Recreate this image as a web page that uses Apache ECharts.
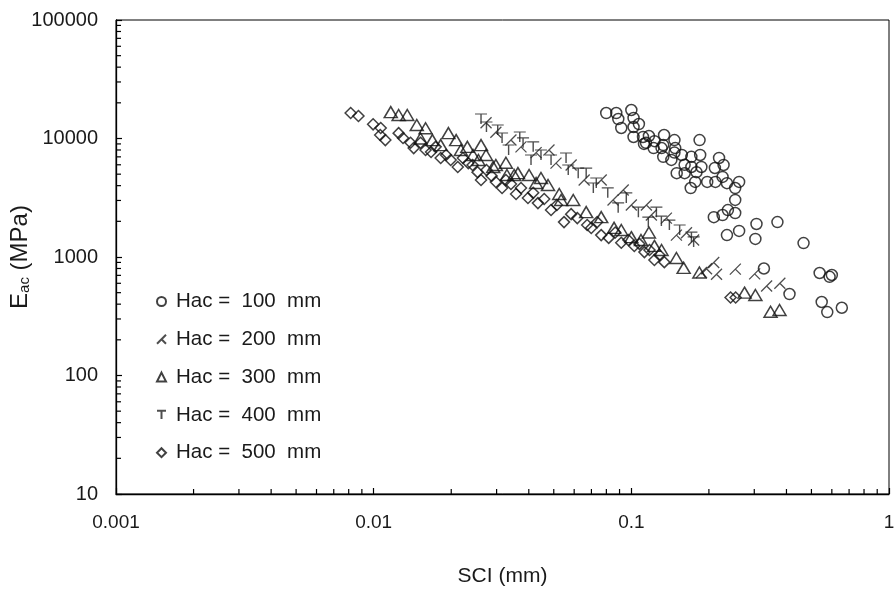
<!DOCTYPE html>
<html>
<head>
<meta charset="utf-8">
<script src="https://cdn.jsdelivr.net/npm/echarts@6/dist/echarts.min.js"></script>
<style>
html,body{margin:0;padding:0;background:#fff;}
#chart{width:894px;height:594px;}
</style>
</head>
<body>
<div id="chart"></div>
<script>
// ---- data (SCI in mm, Eac in MPa) ----
const seriesNames = ['Hac = 100 mm', 'Hac = 200 mm', 'Hac = 300 mm', 'Hac = 400 mm', 'Hac = 500 mm'];

const hac100 = [
  [0.0799,16400],[0.0874,16400],[0.100,17400],[0.089,14600],[0.102,14900],[0.107,13250],
  [0.0914,12270],[0.102,12500],[0.102,10300],[0.111,10300],[0.117,10500],[0.112,9000],
  [0.122,8300],[0.134,10700],[0.133,8800],[0.147,9700],[0.148,8300],[0.133,7000],
  [0.143,6600],[0.157,7260],[0.171,7000],[0.161,6000],[0.184,9700],[0.185,7260],
  [0.150,5100],[0.161,5100],[0.171,5750],[0.187,5750],[0.179,5200],[0.177,4300],
  [0.170,3820],[0.219,6850],[0.211,5640],[0.228,5980],[0.226,4740],[0.197,4300],
  [0.212,4300],[0.235,4200],[0.253,3820],[0.262,4300],[0.253,3030],[0.123,9500],
  [0.114,9200],[0.131,8300],[0.147,7600],[0.209,2170],[0.226,2260],[0.237,2490],
  [0.253,2350],[0.235,1530],[0.262,1660],[0.306,1900],[0.303,1420],[0.369,1970],
  [0.466,1310],[0.538,733],[0.588,680],[0.600,705],[0.411,487],[0.548,417],
  [0.576,343],[0.656,373],[0.327,800]
];

const hac200 = [
  [0.0273,13600],[0.0298,11300],[0.0341,9700],[0.0373,8500],[0.0427,7600],[0.0479,8000],
  [0.0510,6200],[0.0584,5980],[0.0656,4465],[0.0764,4465],[0.0849,3030],[0.0930,3680],
  [0.1000,2750],[0.1144,2750],[0.1196,2260],[0.1368,2130],[0.1496,1530],[0.1637,1600],
  [0.1745,1390],[0.1872,740],[0.2088,900],[0.2141,715],[0.2533,790],[0.3010,720],
  [0.3350,570],[0.377,600],[0.1958,795]
];

const hac300 = [
  [0.01165,16700],[0.0125,15800],[0.0135,15800],[0.0147,13000],[0.0159,12200],[0.0195,11100],
  [0.0209,9700],[0.0231,8500],[0.0273,7260],[0.0291,5750],[0.0326,6250],[0.0351,4920],
  [0.0329,4920],[0.0363,5100],[0.0401,4920],[0.0427,4210],[0.0446,4640],[0.0475,4050],
  [0.0525,3400],[0.0534,3030],[0.0595,3030],[0.0668,2390],[0.0764,2170],[0.0857,1760],
  [0.100,1470],[0.109,1390],[0.1229,1240],[0.1496,980],[0.1596,810],[0.1837,740],
  [0.275,500],[0.303,478],[0.347,345],[0.376,357],[0.0152,10000],[0.0169,9700],
  [0.0182,8800],[0.0218,8000],[0.0243,7260],[0.0255,6585],[0.0298,5980],[0.0261,8800],
  [0.0914,1690],[0.117,1610],[0.131,1146]
];

const hac400 = [
  [0.0261,14600],[0.0274,12500],[0.0303,11800],[0.0315,10100],[0.0369,10300],[0.0380,9200],
  [0.0416,8500],[0.0446,7260],[0.0488,6585],[0.0558,6850],[0.0569,5420],[0.0622,5100],
  [0.0668,5100],[0.0712,3820],[0.0731,4210],[0.0810,3480],[0.0889,2600],[0.0956,3150],
  [0.1065,2390],[0.1251,2390],[0.1164,1970],[0.1405,1860],[0.1540,1690],[0.1711,1470],
  [0.1745,1340],[0.1308,2010],[0.0334,8000],[0.0408,6585]
];

const hac500 = [
  [0.00814,16400],[0.00873,15500],[0.00995,13170],[0.01065,12250],[0.0106,10700],[0.0111,9700],
  [0.0125,11100],[0.0130,10100],[0.0139,9200],[0.0143,8300],[0.0152,9200],[0.0159,8000],
  [0.0167,7700],[0.0174,8500],[0.0182,6850],[0.0191,7260],[0.0199,6585],[0.0212,5750],
  [0.0222,6850],[0.0233,6200],[0.0242,5980],[0.0253,5200],[0.0261,4465],[0.0274,5420],
  [0.0287,4830],[0.0298,4300],[0.0315,3820],[0.0326,4465],[0.0341,4130],[0.0357,3400],
  [0.0373,3820],[0.0397,3150],[0.0416,3480],[0.0434,2850],[0.0459,3090],[0.0488,2490],
  [0.0514,2750],[0.0548,1970],[0.0584,2300],[0.0617,2130],[0.0674,1860],[0.0699,1760],
  [0.0737,1970],[0.0764,1530],[0.0817,1450],[0.0866,1610],[0.0914,1320],[0.0974,1390],
  [0.1027,1240],[0.1075,1290],[0.1124,1100],[0.1176,1146],[0.1229,943],[0.1285,1040],
  [0.1343,905],[0.2427,455],[0.254,455]
];

// ---- axis ticks ----
const xLabelValues = [0.001, 0.01, 0.1, 1];
const xLabelTexts = ['0.001', '0.01', '0.1', '1'];
const yLabelValues = [10, 100, 1000, 10000, 100000];
const yLabelTexts = ['10', '100', '1000', '10000', '100000'];
const xMinorTicks = [
  0.002,0.003,0.004,0.005,0.006,0.007,0.008,0.009,
  0.02,0.03,0.04,0.05,0.06,0.07,0.08,0.09,
  0.2,0.3,0.4,0.5,0.6,0.7,0.8,0.9
];
const yMinorTicks = [
  20,30,40,50,60,70,80,90,
  200,300,400,500,600,700,800,900,
  2000,3000,4000,5000,6000,7000,8000,9000,
  20000,30000,40000,50000,60000,70000,80000,90000
];

function lookupLabel(values, texts) {
  return function (v) {
    for (let i = 0; i < values.length; i++) {
      if (Math.abs(v - values[i]) / values[i] < 1e-6) return texts[i];
    }
    return '';
  };
}

const FONT = '"Liberation Sans", Arial, sans-serif';
const TXT = '#1a1a1a';
const stroke = { color: 'rgba(0,0,0,0)', borderColor: '#111', borderWidth: 1.5 };
const thin = { color: 'rgba(0,0,0,0)', borderColor: '#222', borderWidth: 1.3 };

// tick marks drawn through the axes' own scales
function tickSeries(values, dir, len) {
  const data = values.map(v => dir === 'x' ? [v, yLabelValues[0]] : [xLabelValues[0], v]);
  return {
    type: 'custom',
    silent: true,
    clip: false,
    z: 10,
    data: data,
    encode: { x: 0, y: 1 },
    renderItem: function (params, api) {
      const p = api.coord([api.value(0), api.value(1)]);
      const shape = dir === 'x'
        ? { x1: p[0], y1: p[1], x2: p[0], y2: p[1] - len }
        : { x1: p[0], y1: p[1], x2: p[0] + len, y2: p[1] };
      return { type: 'line', shape: shape, style: { stroke: '#000', lineWidth: 1.2 } };
    }
  };
}

const chart = echarts.init(document.getElementById('chart'), null, { renderer: 'canvas' });
chart.setOption({
  animation: false,
  backgroundColor: '#fff',
  textStyle: { fontFamily: FONT },
  grid: { left: 116, right: 5, top: 20, bottom: 100, outerBoundsMode: 'none', containLabel: false, show: true, borderColor: '#000', borderWidth: 1, backgroundColor: 'transparent' },
  legend: {
    orient: 'vertical',
    left: 156,
    top: 291,
    padding: 0,
    itemWidth: 9,
    itemHeight: 9,
    itemGap: 16.8,
    data: seriesNames,
    formatter: function (name) { return name.replace('= ', '=  ').replace(' mm', '  mm'); },
    textStyle: { fontFamily: FONT, fontSize: 20.5, color: TXT, lineHeight: 21, padding: [0, 0, 0, 5] }
  },
  xAxis: {
    type: 'log',
    logBase: 10,
    min: 0.001,
    max: 1,
    name: 'SCI (mm)',
    nameLocation: 'middle',
    nameGap: 72,
    nameMoveOverlap: false,
    nameTextStyle: { fontFamily: FONT, fontSize: 21, color: TXT },
    axisLine: { show: true, lineStyle: { color: '#000', width: 1.3 } },
    axisTick: { show: true, inside: true, length: 6, lineStyle: { color: '#000', width: 1.2 } },
    axisLabel: { formatter: lookupLabel(xLabelValues, xLabelTexts), margin: 19, fontSize: 19, color: TXT, fontFamily: FONT },
    splitLine: { show: false },
    minorTick: { show: false }
  },
  yAxis: {
    type: 'log',
    logBase: 10,
    min: 10,
    max: 100000,
    name: '{e|E}{s|ac}{e| (MPa)}',
    nameLocation: 'middle',
    nameRotate: 90,
    nameGap: 84,
    nameMoveOverlap: false,
    nameTextStyle: {
      fontFamily: FONT,
      color: TXT,
      rich: {
        e: { fontFamily: FONT, fontSize: 24, color: TXT },
        s: { fontFamily: FONT, fontSize: 15, color: TXT, verticalAlign: 'bottom', padding: [7, 0, 0, 0] }
      }
    },
    axisLine: { show: true, lineStyle: { color: '#000', width: 1.3 } },
    axisTick: { show: true, inside: true, length: 6, lineStyle: { color: '#000', width: 1.2 } },
    axisLabel: { formatter: lookupLabel(yLabelValues, yLabelTexts), margin: 18, fontSize: 20, color: TXT, fontFamily: FONT },
    splitLine: { show: false },
    minorTick: { show: false }
  },
  series: [
    { name: seriesNames[0], type: 'scatter', data: hac100, symbol: 'circle', symbolSize: 11, itemStyle: stroke },
    { name: seriesNames[1], type: 'scatter', data: hac200, symbol: 'path://M0,10L10,0M5,5L10,10', symbolSize: 11, itemStyle: thin },
    { name: seriesNames[2], type: 'scatter', data: hac300, symbol: 'triangle', symbolSize: [13, 11], itemStyle: stroke },
    { name: seriesNames[3], type: 'scatter', data: hac400, symbol: 'path://M0,0L10,0M5,0L5,9', symbolSize: [12, 10], itemStyle: thin },
    { name: seriesNames[4], type: 'scatter', data: hac500, symbol: 'diamond', symbolSize: [11, 11], itemStyle: stroke },
    tickSeries(xMinorTicks, 'x', 5),
    tickSeries(yMinorTicks, 'y', 5)
  ]
});
</script>
</body>
</html>
